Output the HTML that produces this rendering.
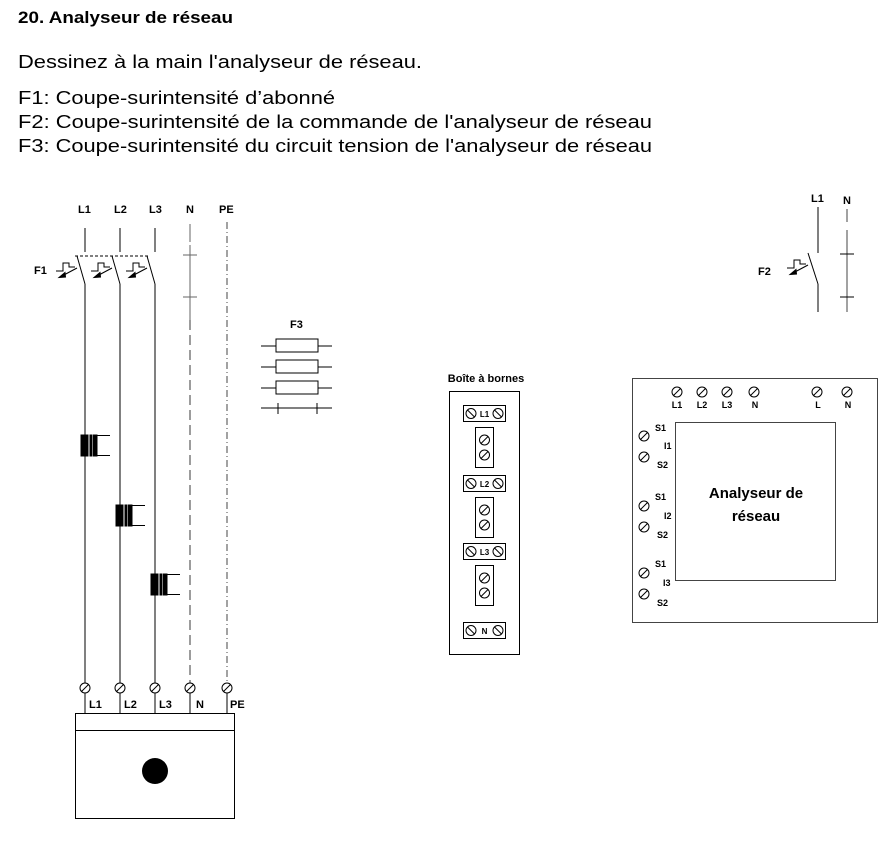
<!DOCTYPE html>
<html><head><meta charset="utf-8"><style>
html,body{margin:0;padding:0;background:#fff;}
svg{display:block;font-family:"Liberation Sans",sans-serif;}
.lb{font-family:"Liberation Sans",sans-serif;font-weight:bold;font-size:11px;fill:#000;}
</style></head><body>
<svg width="894" height="848" viewBox="0 0 894 848" xmlns="http://www.w3.org/2000/svg">
<defs>
<g id="term"><circle r="5" fill="#fff" stroke="#000" stroke-width="1"/><line x1="-3.5" y1="3.5" x2="3.5" y2="-3.5" stroke="#000" stroke-width="1"/></g>
<g id="termb"><circle r="5" fill="#fff" stroke="#000" stroke-width="1"/><line x1="-3.5" y1="-3.5" x2="3.5" y2="3.5" stroke="#000" stroke-width="1"/></g>
<g id="ct"><rect x="-4" y="0" width="7" height="21" fill="#000"/><rect x="5" y="0" width="1.5" height="21" fill="#000"/><rect x="8" y="0" width="4" height="21" fill="#000"/><line x1="8" y1="0.5" x2="25" y2="0.5" stroke="#000"/><line x1="8" y1="20.5" x2="25" y2="20.5" stroke="#000"/></g>
<g id="th"><path d="M-22,15 L-15,15 L-15,7 L-9,7 L-9,11 L-3,11" fill="none" stroke="#000" stroke-width="1"/><line x1="-1" y1="12" x2="-16" y2="20" stroke="#000"/><path d="M-19,21.5 L-13,16.5 L-12.5,21 Z" fill="#000"/></g>
</defs>

<text x="18" y="23" font-size="17" font-weight="bold" textLength="215" lengthAdjust="spacingAndGlyphs">20. Analyseur de réseau</text>
<text x="18" y="68" font-size="18" textLength="404" lengthAdjust="spacingAndGlyphs">Dessinez à la main l'analyseur de réseau.</text>
<text x="18" y="104" font-size="18" textLength="317" lengthAdjust="spacingAndGlyphs">F1: Coupe-surintensité d’abonné</text>
<text x="18" y="128" font-size="18" textLength="634" lengthAdjust="spacingAndGlyphs">F2: Coupe-surintensité de la commande de l'analyseur de réseau</text>
<text x="18" y="152" font-size="18" textLength="634" lengthAdjust="spacingAndGlyphs">F3: Coupe-surintensité du circuit tension de l'analyseur de réseau</text>

<g stroke="#000" stroke-width="1">
<text class="lb" x="78" y="213" stroke="none">L1</text>
<text class="lb" x="114" y="213" stroke="none">L2</text>
<text class="lb" x="149" y="213" stroke="none">L3</text>
<text class="lb" x="186" y="213" stroke="none">N</text>
<text class="lb" x="219" y="213" stroke="none">PE</text>
<text class="lb" x="34" y="274" stroke="none">F1</text>
<line x1="85" y1="228" x2="85" y2="252"/><line x1="120" y1="228" x2="120" y2="252"/><line x1="155" y1="228" x2="155" y2="252"/>
<line x1="77" y1="256" x2="85" y2="284"/><line x1="112" y1="256" x2="120" y2="284"/><line x1="147" y1="256" x2="155" y2="284"/>
<line x1="75" y1="256" x2="148" y2="256" stroke-dasharray="3,2"/>
<use href="#th" x="78" y="256"/><use href="#th" x="113" y="256"/><use href="#th" x="148" y="256"/>
<line x1="85" y1="284" x2="85" y2="683"/><line x1="120" y1="284" x2="120" y2="683"/><line x1="155" y1="284" x2="155" y2="683"/>
<line x1="190" y1="224" x2="190" y2="242" stroke="#666"/><line x1="190" y1="245" x2="190" y2="320" stroke="#666"/>
<line x1="183" y1="255" x2="197" y2="255" stroke="#666"/><line x1="183" y1="297" x2="197" y2="297" stroke="#666"/>
<line x1="190" y1="320" x2="190" y2="683" stroke="#666" stroke-width="1.3" stroke-dasharray="10,5"/>
<line x1="227" y1="222" x2="227" y2="683" stroke="#444" stroke-dasharray="7,3,1,3"/>
<use href="#ct" x="85" y="435"/><use href="#ct" x="120" y="505"/><use href="#ct" x="155" y="574"/>
<use href="#term" x="85" y="688"/><use href="#term" x="120" y="688"/><use href="#term" x="155" y="688"/><use href="#term" x="190" y="688"/><use href="#term" x="227" y="688"/>
<line x1="85" y1="693" x2="85" y2="713"/><line x1="120" y1="693" x2="120" y2="713"/><line x1="155" y1="693" x2="155" y2="713"/><line x1="190" y1="693" x2="190" y2="713"/><line x1="227" y1="693" x2="227" y2="713"/>
<text class="lb" x="89" y="708" stroke="none">L1</text>
<text class="lb" x="124" y="708" stroke="none">L2</text>
<text class="lb" x="159" y="708" stroke="none">L3</text>
<text class="lb" x="196" y="708" stroke="none">N</text>
<text class="lb" x="230" y="708" stroke="none">PE</text>
<rect x="75.5" y="713.5" width="159" height="105" fill="none"/>
<line x1="75.5" y1="730.5" x2="234.5" y2="730.5"/>
<circle cx="155" cy="771" r="13" fill="#000" stroke="none"/>
</g>

<g stroke="#000" stroke-width="1">
<text class="lb" x="290" y="328" stroke="none">F3</text>
<line x1="261" y1="346" x2="332" y2="346"/><rect x="276" y="339" width="42" height="13" fill="#fff"/>
<line x1="261" y1="367" x2="332" y2="367"/><rect x="276" y="360" width="42" height="13" fill="#fff"/>
<line x1="261" y1="388" x2="332" y2="388"/><rect x="276" y="381" width="42" height="13" fill="#fff"/>
<line x1="261" y1="408" x2="332" y2="408"/><line x1="278" y1="403" x2="278" y2="414"/><line x1="317" y1="403" x2="317" y2="414"/>
</g>

<g stroke="#000" stroke-width="1">
<text class="lb" x="486" y="382" text-anchor="middle" stroke="none">Boîte à bornes</text>
<rect x="449.5" y="391.5" width="70" height="263" fill="none"/>
<g><rect x="463.5" y="405.5" width="42" height="16" fill="none"/><use href="#termb" x="471" y="413.5"/><use href="#termb" x="498" y="413.5"/><text x="484.5" y="417" font-size="8" font-weight="bold" text-anchor="middle" stroke="none">L1</text></g>
<rect x="475.5" y="427.5" width="18" height="40" fill="none"/><use href="#term" x="484.5" y="440"/><use href="#term" x="484.5" y="455"/>
<g><rect x="463.5" y="475.5" width="42" height="16" fill="none"/><use href="#termb" x="471" y="483.5"/><use href="#termb" x="498" y="483.5"/><text x="484.5" y="487" font-size="8" font-weight="bold" text-anchor="middle" stroke="none">L2</text></g>
<rect x="475.5" y="497.5" width="18" height="40" fill="none"/><use href="#term" x="484.5" y="510"/><use href="#term" x="484.5" y="525"/>
<g><rect x="463.5" y="543.5" width="42" height="16" fill="none"/><use href="#termb" x="471" y="551.5"/><use href="#termb" x="498" y="551.5"/><text x="484.5" y="555" font-size="8" font-weight="bold" text-anchor="middle" stroke="none">L3</text></g>
<rect x="475.5" y="565.5" width="18" height="40" fill="none"/><use href="#term" x="484.5" y="578"/><use href="#term" x="484.5" y="593"/>
<g><rect x="463.5" y="622.5" width="42" height="16" fill="none"/><use href="#termb" x="471" y="630.5"/><use href="#termb" x="498" y="630.5"/><text x="484.5" y="634" font-size="8" font-weight="bold" text-anchor="middle" stroke="none">N</text></g>
</g>

<g stroke="#000" stroke-width="1">
<rect x="632.5" y="378.5" width="245" height="244" fill="none" stroke="#444"/>
<rect x="675.5" y="422.5" width="160" height="158" fill="none" stroke="#444"/>
<use href="#term" x="677" y="392"/><use href="#term" x="702" y="392"/><use href="#term" x="727" y="392"/><use href="#term" x="754" y="392"/><use href="#term" x="817" y="392"/><use href="#term" x="847" y="392"/>
<g stroke="none" font-size="9" font-weight="bold" text-anchor="middle">
<text x="677" y="408">L1</text><text x="702" y="408">L2</text><text x="727" y="408">L3</text><text x="755" y="408">N</text><text x="818" y="408">L</text><text x="848" y="408">N</text>
</g>
<use href="#term" x="644" y="436"/><use href="#term" x="644" y="457"/>
<use href="#term" x="644" y="506"/><use href="#term" x="644" y="527"/>
<use href="#term" x="644" y="573"/><use href="#term" x="644" y="594"/>
<g stroke="none" font-size="9" font-weight="bold">
<text x="655" y="431">S1</text><text x="664" y="449">I1</text><text x="657" y="468">S2</text>
<text x="655" y="500">S1</text><text x="664" y="519">I2</text><text x="657" y="538">S2</text>
<text x="655" y="567">S1</text><text x="663" y="586">I3</text><text x="657" y="606">S2</text>
</g>
<text x="756" y="498" font-size="15" font-weight="bold" text-anchor="middle" stroke="none">Analyseur de</text>
<text x="756" y="521" font-size="15" font-weight="bold" text-anchor="middle" stroke="none">réseau</text>
</g>

<g stroke="#000" stroke-width="1">
<text class="lb" x="811" y="202" stroke="none">L1</text>
<text class="lb" x="843" y="204" stroke="none">N</text>
<text class="lb" x="758" y="275" stroke="none">F2</text>
<line x1="818" y1="207" x2="818" y2="253"/>
<line x1="808" y1="253" x2="818" y2="284"/>
<use href="#th" x="809" y="253"/>
<line x1="818" y1="284" x2="818" y2="312"/>
<line x1="847" y1="209" x2="847" y2="222" stroke="#444"/>
<line x1="847" y1="230" x2="847" y2="312" stroke="#444"/>
<line x1="840" y1="254" x2="854" y2="254"/><line x1="840" y1="297" x2="854" y2="297"/>
</g>
</svg>
</body></html>
